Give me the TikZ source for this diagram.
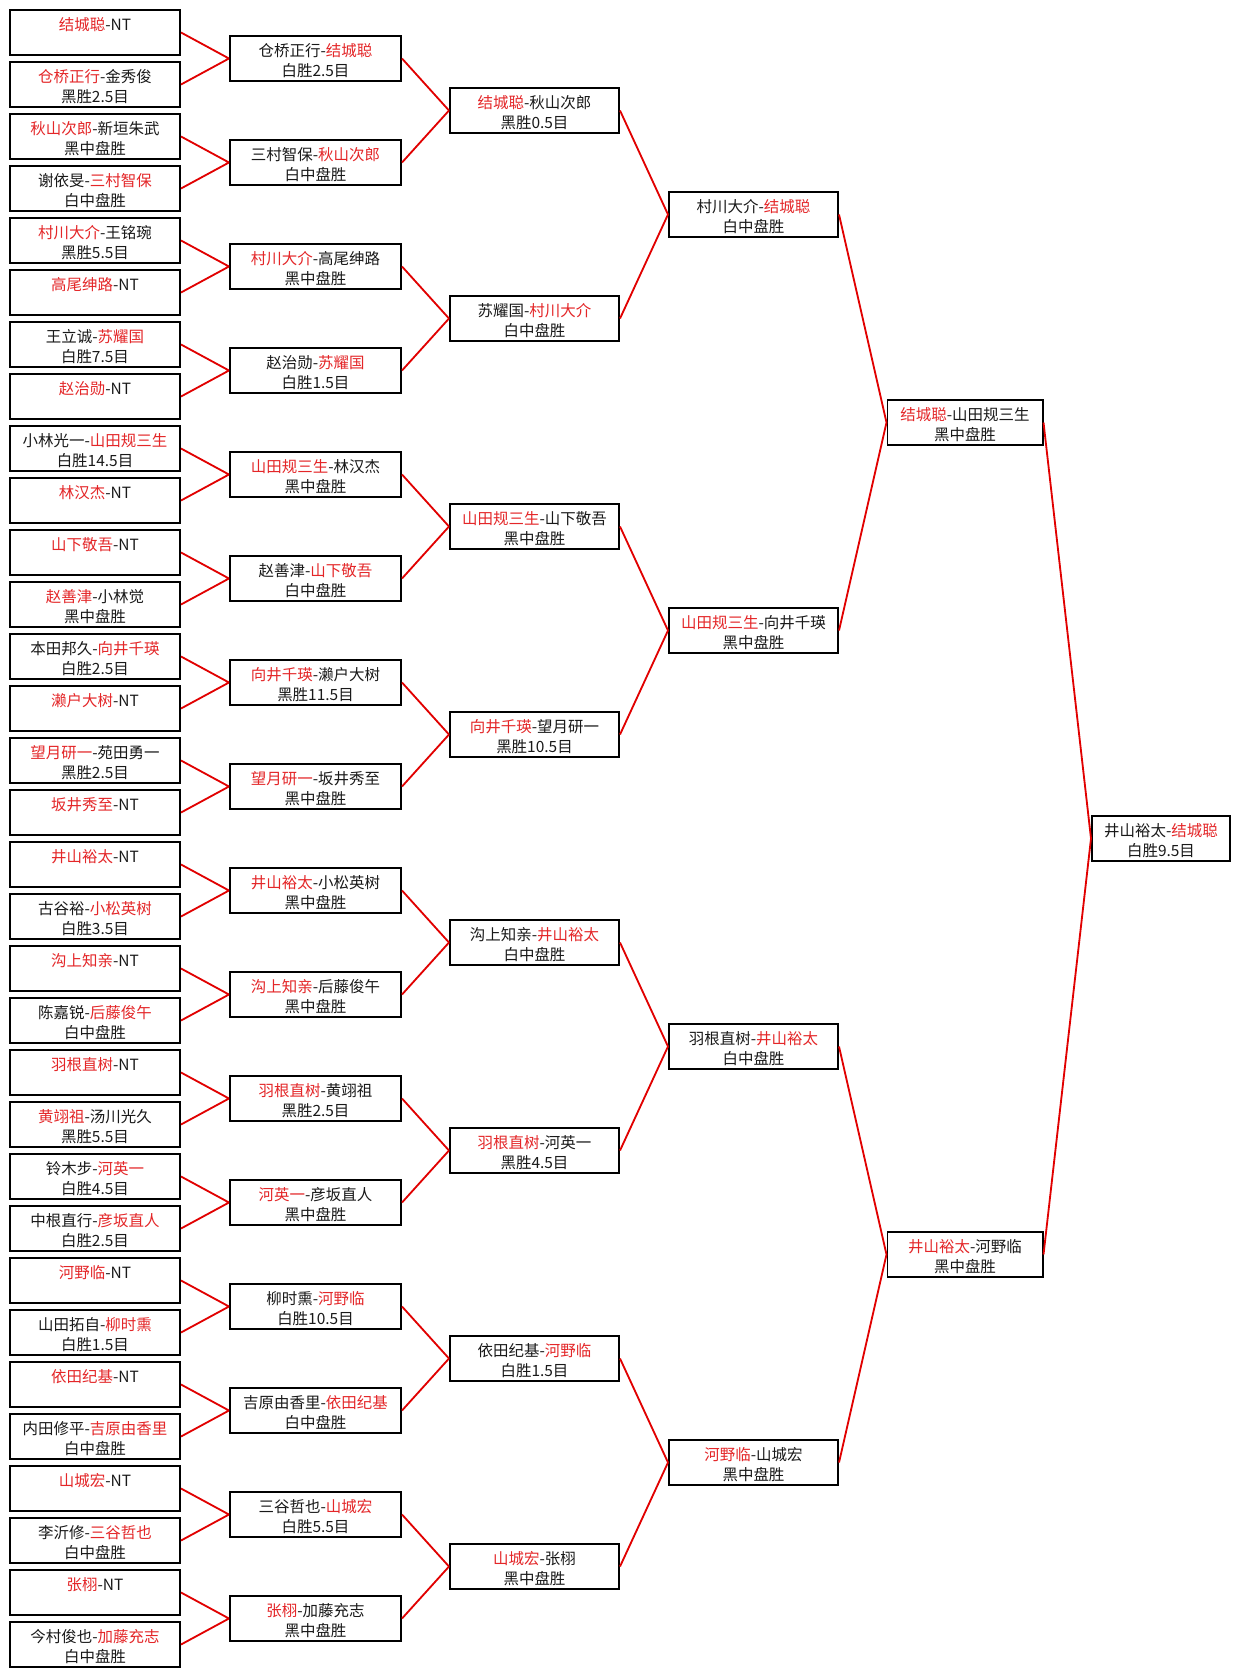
\documentclass[tikz,border=0pt]{standalone}
\usepackage{fontspec}
\usepackage{tikz}
\usetikzlibrary{positioning}
\newfontfamily\cjk{Noto Sans CJK SC}
\definecolor{win}{RGB}{228,38,40}
\definecolor{lnkred}{RGB}{225,0,0}
\tikzset{
  gm/.style={rectangle,draw=black,line width=1.4pt,minimum width=#1,minimum height=1.125cm,
    inner sep=0pt,align=center,text=black!90,font=\cjk\fontsize{11pt}{14.25pt}\selectfont},
  gm/.default=4.25cm,
  lnk/.style={draw=lnkred,line width=1.3pt},
}
% every box holds two lines: the pairing, then the result (empty after a walkover)
\newcommand{\stt}{\rule[-1.6pt]{0pt}{14.2pt}}
\newcommand{\res}[2]{\stt#1\\\stt#2}
\newcommand{\wn}[1]{\textcolor{win}{#1}}

\begin{document}
\begin{tikzpicture}[x=0.025cm,y=-0.025cm]
\useasboundingbox (0,0) rectangle (1241,1677);
\fill[white] (0,0) rectangle (1241,1677);
% ---- first round
\node[gm] (a1) at (95,32.5) {\res{\wn{结城聪}-NT}{}};
\node[gm] (a2) at (95,84.5) {\res{\wn{仓桥正行}-金秀俊}{黑胜2.5目}};
\node[gm] (a3) at (95,136.5) {\res{\wn{秋山次郎}-新垣朱武}{黑中盘胜}};
\node[gm] (a4) at (95,188.5) {\res{谢依旻-\wn{三村智保}}{白中盘胜}};
\node[gm] (a5) at (95,240.5) {\res{\wn{村川大介}-王铭琬}{黑胜5.5目}};
\node[gm] (a6) at (95,292.5) {\res{\wn{高尾绅路}-NT}{}};
\node[gm] (a7) at (95,344.5) {\res{王立诚-\wn{苏耀国}}{白胜7.5目}};
\node[gm] (a8) at (95,396.5) {\res{\wn{赵治勋}-NT}{}};
\node[gm] (a9) at (95,448.5) {\res{小林光一-\wn{山田规三生}}{白胜14.5目}};
\node[gm] (a10) at (95,500.5) {\res{\wn{林汉杰}-NT}{}};
\node[gm] (a11) at (95,552.5) {\res{\wn{山下敬吾}-NT}{}};
\node[gm] (a12) at (95,604.5) {\res{\wn{赵善津}-小林觉}{黑中盘胜}};
\node[gm] (a13) at (95,656.5) {\res{本田邦久-\wn{向井千瑛}}{白胜2.5目}};
\node[gm] (a14) at (95,708.5) {\res{\wn{濑户大树}-NT}{}};
\node[gm] (a15) at (95,760.5) {\res{\wn{望月研一}-苑田勇一}{黑胜2.5目}};
\node[gm] (a16) at (95,812.5) {\res{\wn{坂井秀至}-NT}{}};
\node[gm] (a17) at (95,864.5) {\res{\wn{井山裕太}-NT}{}};
\node[gm] (a18) at (95,916.5) {\res{古谷裕-\wn{小松英树}}{白胜3.5目}};
\node[gm] (a19) at (95,968.5) {\res{\wn{沟上知亲}-NT}{}};
\node[gm] (a20) at (95,1020.5) {\res{陈嘉锐-\wn{后藤俊午}}{白中盘胜}};
\node[gm] (a21) at (95,1072.5) {\res{\wn{羽根直树}-NT}{}};
\node[gm] (a22) at (95,1124.5) {\res{\wn{黄翊祖}-汤川光久}{黑胜5.5目}};
\node[gm] (a23) at (95,1176.5) {\res{铃木步-\wn{河英一}}{白胜4.5目}};
\node[gm] (a24) at (95,1228.5) {\res{中根直行-\wn{彦坂直人}}{白胜2.5目}};
\node[gm] (a25) at (95,1280.5) {\res{\wn{河野临}-NT}{}};
\node[gm] (a26) at (95,1332.5) {\res{山田拓自-\wn{柳时熏}}{白胜1.5目}};
\node[gm] (a27) at (95,1384.5) {\res{\wn{依田纪基}-NT}{}};
\node[gm] (a28) at (95,1436.5) {\res{内田修平-\wn{吉原由香里}}{白中盘胜}};
\node[gm] (a29) at (95,1488.5) {\res{\wn{山城宏}-NT}{}};
\node[gm] (a30) at (95,1540.5) {\res{李沂修-\wn{三谷哲也}}{白中盘胜}};
\node[gm] (a31) at (95,1592.5) {\res{\wn{张栩}-NT}{}};
\node[gm] (a32) at (95,1644.5) {\res{今村俊也-\wn{加藤充志}}{白中盘胜}};
% ---- second round
\node[gm=4.275cm] (b1) at (315.5,58.5) {\res{仓桥正行-\wn{结城聪}}{白胜2.5目}};
\node[gm=4.275cm] (b2) at (315.5,162.5) {\res{三村智保-\wn{秋山次郎}}{白中盘胜}};
\node[gm=4.275cm] (b3) at (315.5,266.5) {\res{\wn{村川大介}-高尾绅路}{黑中盘胜}};
\node[gm=4.275cm] (b4) at (315.5,370.5) {\res{赵治勋-\wn{苏耀国}}{白胜1.5目}};
\node[gm=4.275cm] (b5) at (315.5,474.5) {\res{\wn{山田规三生}-林汉杰}{黑中盘胜}};
\node[gm=4.275cm] (b6) at (315.5,578.5) {\res{赵善津-\wn{山下敬吾}}{白中盘胜}};
\node[gm=4.275cm] (b7) at (315.5,682.5) {\res{\wn{向井千瑛}-濑户大树}{黑胜11.5目}};
\node[gm=4.275cm] (b8) at (315.5,786.5) {\res{\wn{望月研一}-坂井秀至}{黑中盘胜}};
\node[gm=4.275cm] (b9) at (315.5,890.5) {\res{\wn{井山裕太}-小松英树}{黑中盘胜}};
\node[gm=4.275cm] (b10) at (315.5,994.5) {\res{\wn{沟上知亲}-后藤俊午}{黑中盘胜}};
\node[gm=4.275cm] (b11) at (315.5,1098.5) {\res{\wn{羽根直树}-黄翊祖}{黑胜2.5目}};
\node[gm=4.275cm] (b12) at (315.5,1202.5) {\res{\wn{河英一}-彦坂直人}{黑中盘胜}};
\node[gm=4.275cm] (b13) at (315.5,1306.5) {\res{柳时熏-\wn{河野临}}{白胜10.5目}};
\node[gm=4.275cm] (b14) at (315.5,1410.5) {\res{吉原由香里-\wn{依田纪基}}{白中盘胜}};
\node[gm=4.275cm] (b15) at (315.5,1514.5) {\res{三谷哲也-\wn{山城宏}}{白胜5.5目}};
\node[gm=4.275cm] (b16) at (315.5,1618.5) {\res{\wn{张栩}-加藤充志}{黑中盘胜}};
% ---- third round
\node[gm=4.225cm] (c1) at (534.5,110.5) {\res{\wn{结城聪}-秋山次郎}{黑胜0.5目}};
\node[gm=4.225cm] (c2) at (534.5,318.5) {\res{苏耀国-\wn{村川大介}}{白中盘胜}};
\node[gm=4.225cm] (c3) at (534.5,526.5) {\res{\wn{山田规三生}-山下敬吾}{黑中盘胜}};
\node[gm=4.225cm] (c4) at (534.5,734.5) {\res{\wn{向井千瑛}-望月研一}{黑胜10.5目}};
\node[gm=4.225cm] (c5) at (534.5,942.5) {\res{沟上知亲-\wn{井山裕太}}{白中盘胜}};
\node[gm=4.225cm] (c6) at (534.5,1150.5) {\res{\wn{羽根直树}-河英一}{黑胜4.5目}};
\node[gm=4.225cm] (c7) at (534.5,1358.5) {\res{依田纪基-\wn{河野临}}{白胜1.5目}};
\node[gm=4.225cm] (c8) at (534.5,1566.5) {\res{\wn{山城宏}-张栩}{黑中盘胜}};
% ---- quarter and semi finals, final
\node[gm=4.225cm] (d1) at (753.5,214.5) {\res{村川大介-\wn{结城聪}}{白中盘胜}};
\node[gm=4.225cm] (d2) at (753.5,630.5) {\res{\wn{山田规三生}-向井千瑛}{黑中盘胜}};
\node[gm=4.225cm] (d3) at (753.5,1046.5) {\res{羽根直树-\wn{井山裕太}}{白中盘胜}};
\node[gm=4.225cm] (d4) at (753.5,1462.5) {\res{\wn{河野临}-山城宏}{黑中盘胜}};
\node[gm=3.875cm] (e1) at (965,422.5) {\res{\wn{结城聪}-山田规三生}{黑中盘胜}};
\node[gm=3.875cm] (e2) at (965,1254.5) {\res{\wn{井山裕太}-河野临}{黑中盘胜}};
\node[gm=3.45cm] (f) at (1161,838.5) {\res{井山裕太-\wn{结城聪}}{白胜9.5目}};
% ---- connectors
\draw[lnk] (a1.east)--(b1.west) (a2.east)--(b1.west) (a3.east)--(b2.west) (a4.east)--(b2.west);
\draw[lnk] (a5.east)--(b3.west) (a6.east)--(b3.west) (a7.east)--(b4.west) (a8.east)--(b4.west);
\draw[lnk] (a9.east)--(b5.west) (a10.east)--(b5.west) (a11.east)--(b6.west) (a12.east)--(b6.west);
\draw[lnk] (a13.east)--(b7.west) (a14.east)--(b7.west) (a15.east)--(b8.west) (a16.east)--(b8.west);
\draw[lnk] (a17.east)--(b9.west) (a18.east)--(b9.west) (a19.east)--(b10.west) (a20.east)--(b10.west);
\draw[lnk] (a21.east)--(b11.west) (a22.east)--(b11.west) (a23.east)--(b12.west) (a24.east)--(b12.west);
\draw[lnk] (a25.east)--(b13.west) (a26.east)--(b13.west) (a27.east)--(b14.west) (a28.east)--(b14.west);
\draw[lnk] (a29.east)--(b15.west) (a30.east)--(b15.west) (a31.east)--(b16.west) (a32.east)--(b16.west);
\draw[lnk] (b1.east)--(c1.west) (b2.east)--(c1.west) (b3.east)--(c2.west) (b4.east)--(c2.west);
\draw[lnk] (b5.east)--(c3.west) (b6.east)--(c3.west) (b7.east)--(c4.west) (b8.east)--(c4.west);
\draw[lnk] (b9.east)--(c5.west) (b10.east)--(c5.west) (b11.east)--(c6.west) (b12.east)--(c6.west);
\draw[lnk] (b13.east)--(c7.west) (b14.east)--(c7.west) (b15.east)--(c8.west) (b16.east)--(c8.west);
\draw[lnk] (c1.east)--(d1.west) (c2.east)--(d1.west) (c3.east)--(d2.west) (c4.east)--(d2.west);
\draw[lnk] (c5.east)--(d3.west) (c6.east)--(d3.west) (c7.east)--(d4.west) (c8.east)--(d4.west);
\draw[lnk] (d1.east)--(e1.west) (d2.east)--(e1.west) (d3.east)--(e2.west) (d4.east)--(e2.west);
\draw[lnk] (e1.east)--(f.west) (e2.east)--(f.west);
\end{tikzpicture}
\end{document}
